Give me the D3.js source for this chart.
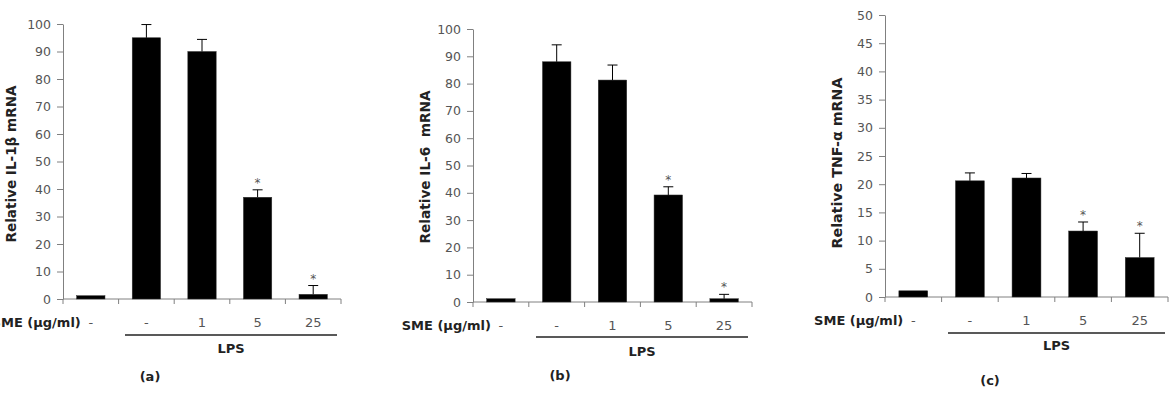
<!DOCTYPE html>
<html>
<head>
<meta charset="utf-8">
<script src="https://cdn.jsdelivr.net/npm/d3@7/dist/d3.min.js"></script>
<style>
  body { margin: 0; background: #fff; }
  svg { display: block; font-family: "DejaVu Sans", sans-serif; }
</style>
</head>
<body>
<svg id="chart" width="1172" height="399"></svg>
<script>
// doses of SME (first one is the control without LPS)
const doses = ["-", "-", "1", "5", "25"];

// panel (a) IL-1β
const il1bMean = [1.2, 95, 90, 37, 1.7];
const il1bErr  = [0, 4.8, 4.4, 2.7, 3.2];
const il1bStar = [false, false, false, true, true];
const il1bTicks = [0, 10, 20, 30, 40, 50, 60, 70, 80, 90, 100];

// panel (b) IL-6
const il6Mean = [1.2, 88, 81.3, 39.2, 1.2];
const il6Err  = [0, 6.2, 5.5, 3, 1.6];
const il6Star = [false, false, false, true, true];
const il6Ticks = [0, 10, 20, 30, 40, 50, 60, 70, 80, 90, 100];

// panel (c) TNF-α
const tnfMean = [1.1, 20.6, 21.1, 11.7, 7];
const tnfErr  = [0, 1.4, 0.8, 1.6, 4.3];
const tnfStar = [false, false, false, true, true];
const tnfTicks = [0, 5, 10, 15, 20, 25, 30, 35, 40, 45, 50];

const svg = d3.select("#chart");

const panels = [
  {mean: il1bMean, err: il1bErr, star: il1bStar, ticks: il1bTicks, max: 100,
   title: "Relative IL-1β mRNA", tag: "(a)",
   x0: 63, x1: 341, yTop: 24, yBot: 299, titleX: 16, titleY: 164, titleLen: 157,
   catY: 327, lpsLine: [125, 337, 335], lpsY: 353, tagX: 150, tagY: 381},
  {mean: il6Mean, err: il6Err, star: il6Star, ticks: il6Ticks, max: 100,
   title: "Relative IL-6  mRNA", tag: "(b)",
   x0: 473, x1: 752, yTop: 29, yBot: 302, titleX: 430, titleY: 167, titleLen: 153,
   catY: 330, lpsLine: [536, 748, 337], lpsY: 356, tagX: 560, tagY: 380},
  {mean: tnfMean, err: tnfErr, star: tnfStar, ticks: tnfTicks, max: 50,
   title: "Relative TNF-α mRNA", tag: "(c)",
   x0: 885, x1: 1168, yTop: 15, yBot: 297, titleX: 842, titleY: 163, titleLen: 171,
   catY: 325, lpsLine: [948, 1165, 333], lpsY: 350, tagX: 990, tagY: 385}
];

panels.forEach(p => {
  const g = svg.append("g");

  const x = d3.scaleBand().domain(d3.range(doses.length)).range([p.x0, p.x1]).paddingInner(0.49).paddingOuter(0.245);
  const y = d3.scaleLinear().domain([0, p.max]).range([p.yBot, p.yTop]);

  // y axis
  const yAxis = g.append("g")
    .attr("transform", `translate(${p.x0},0)`)
    .call(d3.axisLeft(y).tickValues(p.ticks).tickSize(6).tickPadding(6).tickSizeOuter(0));
  yAxis.select(".domain").attr("stroke", "#808080");
  yAxis.selectAll(".tick line").attr("stroke", "#808080");
  yAxis.selectAll(".tick text").attr("fill", "#555").style("font-size", "12.5px")
    .style("font-family", "'DejaVu Sans', sans-serif");

  // x axis: line with ticks at category boundaries
  const bounds = d3.range(doses.length + 1).map(i => p.x0 + (p.x1 - p.x0) * i / doses.length);
  g.append("line").attr("x1", p.x0).attr("x2", p.x1).attr("y1", p.yBot).attr("y2", p.yBot)
    .attr("stroke", "#808080");
  g.selectAll(".xtick").data(bounds).enter().append("line")
    .attr("x1", d => d).attr("x2", d => d).attr("y1", p.yBot).attr("y2", p.yBot + 5)
    .attr("stroke", "#808080");

  // bars
  g.selectAll(".bar").data(p.mean).enter().append("rect")
    .attr("x", (d, i) => x(i)).attr("width", x.bandwidth())
    .attr("y", d => y(d)).attr("height", d => y(0) - y(d))
    .attr("fill", "#000").attr("stroke", "#333").attr("stroke-width", 0.5);

  // error bars (upper only)
  p.mean.forEach((m, i) => {
    if (!p.err[i]) return;
    const cx = x(i) + x.bandwidth() / 2;
    g.append("line").attr("x1", cx).attr("x2", cx).attr("y1", y(m)).attr("y2", y(m + p.err[i]))
      .attr("stroke", "#000").attr("stroke-width", 1);
    g.append("line").attr("x1", cx - 5).attr("x2", cx + 5).attr("y1", y(m + p.err[i])).attr("y2", y(m + p.err[i]))
      .attr("stroke", "#000").attr("stroke-width", 1);
    if (p.star[i]) {
      g.append("text").attr("x", cx).attr("y", y(m + p.err[i]) - 3)
        .attr("text-anchor", "middle").attr("fill", "#555").style("font-size", "12px").text("*");
    }
  });

  // category labels
  g.selectAll(".cat").data(doses).enter().append("text")
    .attr("x", (d, i) => x(i) + x.bandwidth() / 2).attr("y", p.catY)
    .attr("text-anchor", "middle").attr("fill", "#555").style("font-size", "13px").text(d => d);

  g.append("text").attr("x", x(0) + x.bandwidth() / 2 - 10).attr("y", p.catY)
    .attr("text-anchor", "end").attr("fill", "#222").style("font-size", "13px").style("font-weight", "bold")
    .text("SME (µg/ml)");

  // LPS bracket
  g.append("line").attr("x1", p.lpsLine[0]).attr("x2", p.lpsLine[1]).attr("y1", p.lpsLine[2]).attr("y2", p.lpsLine[2])
    .attr("stroke", "#222").attr("stroke-width", 1.3);
  g.append("text").attr("x", (p.lpsLine[0] + p.lpsLine[1]) / 2).attr("y", p.lpsY)
    .attr("text-anchor", "middle").attr("fill", "#222").style("font-size", "13px").style("font-weight", "bold")
    .text("LPS");

  // panel tag
  g.append("text").attr("x", p.tagX).attr("y", p.tagY).attr("text-anchor", "middle")
    .attr("fill", "#222").style("font-size", "13px").style("font-weight", "bold").text(p.tag);

  // y title
  g.append("text").attr("transform", `translate(${p.titleX},${p.titleY}) rotate(-90)`)
    .attr("text-anchor", "middle").attr("fill", "#222").style("font-size", "14px").style("font-weight", "bold")
    .attr("textLength", p.titleLen).attr("lengthAdjust", "spacingAndGlyphs")
    .style("white-space", "pre").text(p.title);
});
</script>
</body>
</html>
